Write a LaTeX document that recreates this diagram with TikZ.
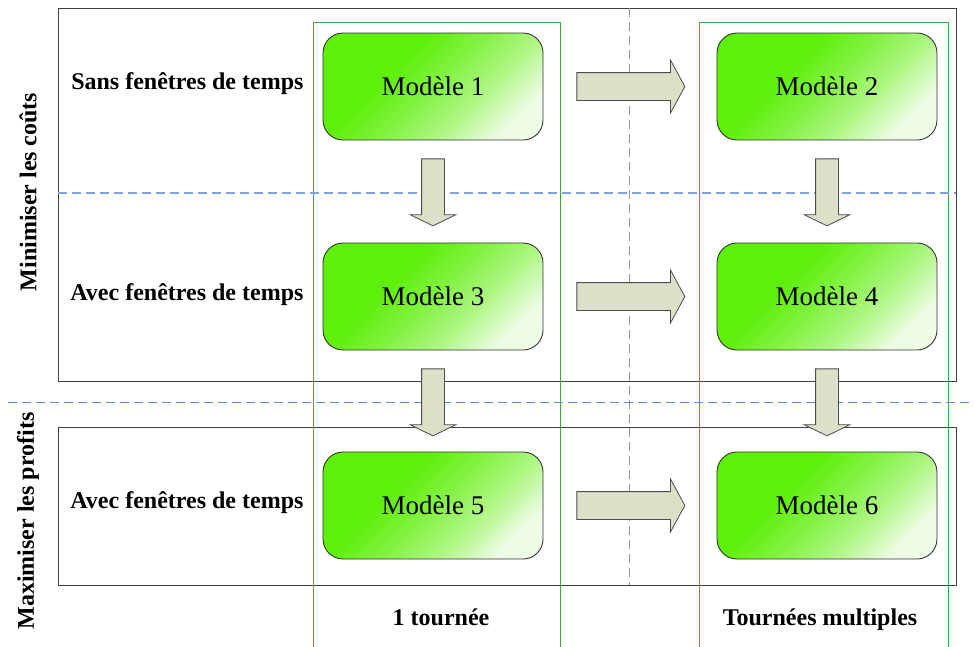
\documentclass[tikz,border=0pt]{standalone}
\usepackage{fontspec}
\setmainfont{Liberation Serif}
\usetikzlibrary{shapes.arrows,calc}
\definecolor{modgreen}{HTML}{5EEF0A}
\definecolor{modlight}{HTML}{EEFCE6}
\definecolor{arrfill}{HTML}{DCE0C9}
\definecolor{colgreen}{HTML}{3FA83F}
\definecolor{sepblue}{HTML}{5B8ED8}
\definecolor{sepgrey}{HTML}{8A96B4}
\pgfdeclareverticalshading{modshade}{100bp}{color(0bp)=(modlight); color(25bp)=(modlight);
  color(38bp)=(modgreen!45!modlight); color(50bp)=(modgreen!75!modlight); color(62bp)=(modgreen); color(100bp)=(modgreen)}
\begin{document}
\begin{tikzpicture}[x=1pt, y=-1pt,
    modele/.style={draw=black!80, line width=0.9pt, rounded corners=20pt,
      minimum width=220pt, minimum height=107pt,
      shading=modshade, shading angle=45,
      font=\fontsize{27}{32}\selectfont},
    lbl/.style={font=\bfseries\fontsize{24}{28}\selectfont},
    harr/.style={single arrow, draw=black!70, line width=0.8pt, fill=arrfill, inner sep=13.5pt,
      minimum height=108pt, minimum width=52pt, single arrow head extend=12.5pt, single arrow tip angle=123,
      anchor=tail},
    varr/.style={harr, shape border rotate=270, inner sep=11pt,
      minimum height=67pt, minimum width=45pt, single arrow head extend=11.5pt, single arrow tip angle=128},
    rowbox/.style={draw=black!75, line width=0.8pt},
    colbox/.style={draw=colgreen, line width=0.8pt},
    sep/.style={draw=sepblue, line width=0.9pt, dash pattern=on 9pt off 5pt}]
  \useasboundingbox (0,0) rectangle (974,646);
  % objective rows and tour columns
  \draw[rowbox] (58,8) rectangle (956,381);
  \draw[rowbox] (58,427) rectangle (956,585);
  \draw[colbox] (313,22) rectangle (560,650);
  \draw[colbox] (699,22) rectangle (948,650);
  \draw[sep, draw=sepblue!80!white, line width=1.2pt] (58,193) -- (956,193);
  \draw[sep] (8,402) -- (974,402);
  \draw[sep, draw=sepgrey] (629,8) -- (629,585);
  % models
  \node[modele] (m1) at (433,86.5) {Modèle 1};
  \node[modele] (m2) at (827,86.5) {Modèle 2};
  \node[modele] (m3) at (433,296.5) {Modèle 3};
  \node[modele] (m4) at (827,296.5) {Modèle 4};
  \node[modele] (m5) at (433,505.5) {Modèle 5};
  \node[modele] (m6) at (827,505.5) {Modèle 6};
  % block arrows
  \node[harr] (a12) at ([xshift=33pt]m1.east) {};
  \node[harr] (a34) at ([xshift=33pt]m3.east) {};
  \node[harr] (a56) at ([xshift=33pt]m5.east) {};
  \node[varr] (a13) at ([yshift=-18pt]m1.south) {};
  \node[varr] (a24) at ([yshift=-18pt]m2.south) {};
  \node[varr] (a35) at ([yshift=-18pt]m3.south) {};
  \node[varr] (a46) at ([yshift=-18pt]m4.south) {};
  % labels
  \node[lbl, anchor=base east] (sans) at (307,89) {Sans fenêtres de temps};
  \node[lbl, anchor=base east] (avec1) at (307,300) {Avec fenêtres de temps};
  \node[lbl, anchor=base east] (avec2) at (307,508) {Avec fenêtres de temps};
  \node[lbl, rotate=90] (couts) at (28,192) {Minimiser les coûts};
  \node[lbl, rotate=90] (profits) at (28,521) {Maximiser les profits};
  \node[lbl, anchor=base] (une) at (441,625) {1 tournée};
  \node[lbl, anchor=base] (multi) at (820,625) {Tournées multiples};
\end{tikzpicture}
\end{document}
